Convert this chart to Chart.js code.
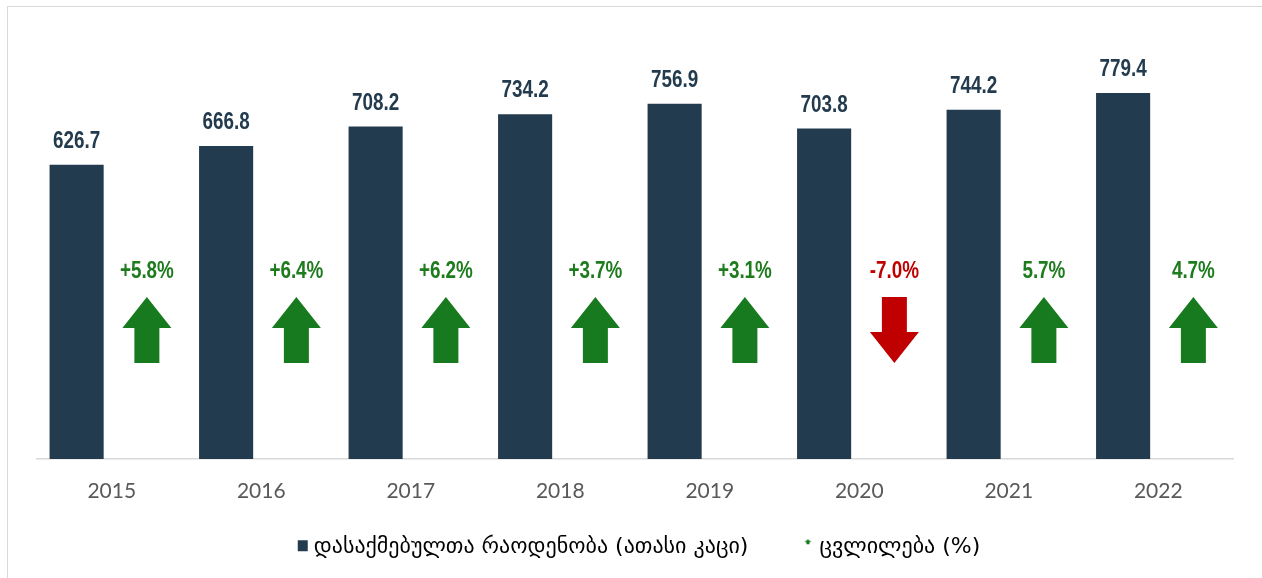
<!DOCTYPE html>
<html>
<head>
<meta charset="utf-8">
<script src="https://cdn.jsdelivr.net/npm/chart.js@4"></script>
<style>
  html, body { margin: 0; padding: 0; background: #fff; overflow: hidden; }
  #wrap { position: relative; width: 1262px; height: 578px; }
  #frame {
    position: absolute; left: 7px; top: 6px; width: 1300px; height: 620px;
    border: 1.5px solid #d9d9d9;
  }
  #chart { position: absolute; left: 0; top: 0; }
</style>
</head>
<body>
<div id="wrap">
  <div id="frame"></div>
  <canvas id="chart" width="1262" height="578"></canvas>
</div>
<script>
const years = ['2015', '2016', '2017', '2018', '2019', '2020', '2021', '2022'];
const employed = [626.7, 666.8, 708.2, 734.2, 756.9, 703.8, 744.2, 779.4];
const changes = [5.8, 6.4, 6.2, 3.7, 3.1, -7.0, 5.7, 4.7];
const changeLabels = ['+5.8%', '+6.4%', '+6.2%', '+3.7%', '+3.1%', '-7.0%', '5.7%', '4.7%'];
const seriesNames = ['დასაქმებულთა რაოდენობა (ათასი კაცი)', 'ცვლილება (%)'];

const barColor = '#233b4e';
const upColor = '#177a1f';
const downColor = '#c00000';
const boldFont = "'Liberation Sans', Arial, sans-serif";

// legend markers: small canvases with the mark pushed to the right edge,
// so the wide point-style box gives the gap between the two legend items
const MARKER_W = 47;
const MARKER_EXTRA = 6;
function makeMarker(kind) {
  const c = document.createElement('canvas');
  c.width = MARKER_W + 2 * MARKER_EXTRA;
  c.height = 22;
  const g = c.getContext('2d');
  const r = c.width;
  if (kind === 'square') {
    g.fillStyle = barColor;
    g.fillRect(r - 11, 4, 10, 11);
  } else {
    g.fillStyle = upColor;
    const cx = r - 6.5, top = 3;
    g.beginPath();
    g.moveTo(cx, top);
    g.lineTo(cx + 3.5, top + 3);
    g.lineTo(cx + 1.5, top + 3);
    g.lineTo(cx + 1.5, top + 5);
    g.lineTo(cx - 1.5, top + 5);
    g.lineTo(cx - 1.5, top + 3);
    g.lineTo(cx - 3.5, top + 3);
    g.closePath();
    g.fill();
  }
  return c;
}
const markers = [makeMarker('square'), makeMarker('arrow')];

function drawArrow(ctx, cx, top, bottom, up, color) {
  const headW = 49, shaftW = 25;
  const headH = (bottom - top) * 0.47;
  ctx.fillStyle = color;
  ctx.beginPath();
  if (up) {
    ctx.moveTo(cx, top);
    ctx.lineTo(cx + headW / 2, top + headH);
    ctx.lineTo(cx + shaftW / 2, top + headH);
    ctx.lineTo(cx + shaftW / 2, bottom);
    ctx.lineTo(cx - shaftW / 2, bottom);
    ctx.lineTo(cx - shaftW / 2, top + headH);
    ctx.lineTo(cx - headW / 2, top + headH);
  } else {
    ctx.moveTo(cx - shaftW / 2, top);
    ctx.lineTo(cx + shaftW / 2, top);
    ctx.lineTo(cx + shaftW / 2, bottom - headH);
    ctx.lineTo(cx + headW / 2, bottom - headH);
    ctx.lineTo(cx, bottom);
    ctx.lineTo(cx - headW / 2, bottom - headH);
    ctx.lineTo(cx - shaftW / 2, bottom - headH);
  }
  ctx.closePath();
  ctx.fill();
}

// condensed look: squeeze the bold text horizontally
function narrowText(ctx, text, x, y) {
  ctx.save();
  ctx.translate(x, y);
  ctx.scale(0.82, 1);
  ctx.fillText(text, 0, 0);
  ctx.restore();
}

const labelsPlugin = {
  id: 'labelsPlugin',
  afterLayout(chart) {
    // move the centred legend a bit left (the first marker box is wide)
    chart.legend.left -= 17;
    chart.legend.right -= 17;
  },
  afterDatasetsDraw(chart) {
    const ctx = chart.ctx;
    const area = chart.chartArea;
    const h = area.bottom - area.top;
    ctx.save();
    ctx.textAlign = 'center';
    ctx.textBaseline = 'alphabetic';

    // values above bars
    ctx.font = 'bold 23px ' + boldFont;
    ctx.fillStyle = barColor;
    chart.getDatasetMeta(0).data.forEach((bar, i) => {
      narrowText(ctx, employed[i].toFixed(1), bar.x, bar.y - 17);
    });

    // change arrows and labels
    ctx.font = 'bold 23px ' + boldFont;
    chart.getDatasetMeta(1).data.forEach((bar, i) => {
      const up = changes[i] >= 0;
      const top = area.top + h * 0.6166;
      const bottom = area.top + h * 0.7728;
      ctx.fillStyle = up ? '#1e7b1e' : downColor;
      narrowText(ctx, changeLabels[i], bar.x, area.top + h * 0.5716);
      drawArrow(ctx, bar.x, top, bottom, up, up ? upColor : downColor);
    });
    ctx.restore();
  }
};

new Chart(document.getElementById('chart'), {
  type: 'bar',
  data: {
    labels: years,
    datasets: [
      {
        label: seriesNames[0],
        data: employed,
        backgroundColor: barColor,
        categoryPercentage: 0.94,
        barPercentage: 0.77,
        yAxisID: 'y'
      },
      {
        label: seriesNames[1],
        data: changes,
        backgroundColor: 'rgba(0,0,0,0)',
        categoryPercentage: 0.94,
        barPercentage: 0.77,
        yAxisID: 'y2'
      }
    ]
  },
  options: {
    responsive: false,
    animation: false,
    layout: { padding: { left: 37, right: 29, top: 36.5, bottom: 9.8 } },
    scales: {
      x: {
        grid: { display: false, drawTicks: false },
        border: { color: '#d9d9d9', width: 1.5 },
        ticks: { color: '#595959', font: { family: 'Lato', size: 21 }, padding: 19.5 }
      },
      y: { display: false, min: 0, max: 900 },
      y2: { display: false, min: -10, max: 10 }
    },
    plugins: {
      tooltip: { enabled: false },
      legend: {
        position: 'bottom',
        labels: {
          usePointStyle: true,
          pointStyleWidth: MARKER_W,
          padding: 13,
          color: '#595959',
          font: { family: "'DejaVu Sans', sans-serif", size: 22 },
          generateLabels: () => seriesNames.map((name, i) => ({
            text: name,
            pointStyle: markers[i],
            fillStyle: 'rgba(0,0,0,0)',
            strokeStyle: 'rgba(0,0,0,0)',
            lineWidth: 0,
            hidden: false,
            datasetIndex: i
          }))
        }
      }
    }
  },
  plugins: [labelsPlugin]
});
</script>
</body>
</html>
